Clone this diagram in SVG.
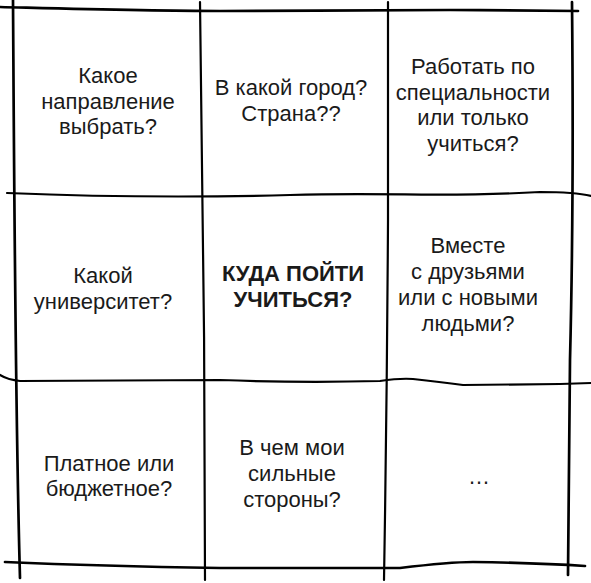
<svg xmlns="http://www.w3.org/2000/svg" width="591" height="583" viewBox="0 0 591 583">
<style>
.ln{fill:none;stroke:#000;stroke-width:2.2;stroke-linecap:round}
.thk{stroke-width:2.7}
text{font-family:"Liberation Sans",Arial,sans-serif;font-size:22px;fill:#1a1a1a;text-anchor:middle}
.b{font-weight:bold}
</style>
<rect width="591" height="583" fill="#fff"/>
<g id="connectors">
<path class="ln thk" d="M0,7 C80,9 150,11 220,11 S400,10 450,10 S560,11 578,11"/>
<path class="ln" d="M7,193 C80,196 180,198 290,195 S440,198 540,192 Q575,192 591,196"/>
<path class="ln" d="M0,375 Q8,380 20,381 L220,380 Q300,383 380,381 Q400,378 413,379 Q440,382 463,385 L560,384 L591,383"/>
<path class="ln thk" d="M5,562 Q100,566 220,568 L400,568 Q450,562 473,562 Q540,563 585,566"/>
<path class="ln thk" d="M13,0 C14,150 15,400 20,578"/>
<path class="ln" d="M200,2 C203,150 205,400 205,580"/>
<path class="ln" d="M388,2 L388,220 Q387,400 384,580"/>
<path class="ln thk" d="M572,2 Q574,200 570,360 L568,575"/>
</g>
<g id="n1"><text x="108" y="83">Какое</text><text x="108" y="108.5">направление</text><text x="108" y="134">выбрать?</text></g>
<g id="n2"><text x="291" y="95">В какой город?</text><text x="291" y="121">Страна??</text></g>
<g id="n3"><text x="473" y="74">Работать по</text><text x="473" y="99.5">специальности</text><text x="473" y="125">или только</text><text x="473" y="150.5">учиться?</text></g>
<g id="n4"><text x="103" y="283">Какой</text><text x="103" y="309">университет?</text></g>
<g id="n5"><text class="b" x="293" y="281">КУДА ПОЙТИ</text><text class="b" x="293" y="307">УЧИТЬСЯ?</text></g>
<g id="n6"><text x="468" y="253">Вместе</text><text x="468" y="279">с друзьями</text><text x="468" y="305">или с новыми</text><text x="468" y="331">людьми?</text></g>
<g id="n7"><text x="109" y="471">Платное или</text><text x="109" y="496">бюджетное?</text></g>
<g id="n8"><text x="292" y="455">В чем мои</text><text x="292" y="481">сильные</text><text x="292" y="507">стороны?</text></g>
<g id="n9"><text x="479" y="484">…</text></g>
</svg>
